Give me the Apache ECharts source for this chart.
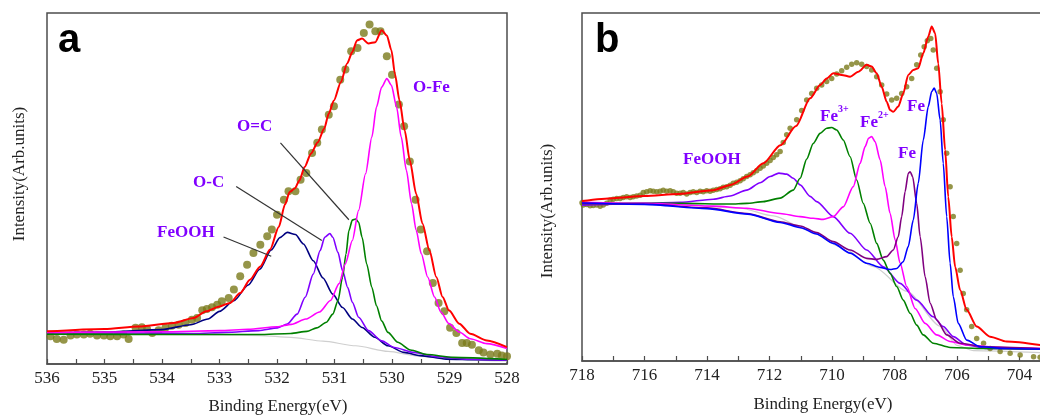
<!DOCTYPE html>
<html>
<head>
<meta charset="utf-8">
<title>XPS O 1s / Fe 2p</title>
<script src="https://cdn.jsdelivr.net/npm/echarts@6.0.0/dist/echarts.min.js"></script>
<style>
  html, body { margin: 0; padding: 0; background: #fff; }
  #chart { width: 1040px; height: 417px; }
</style>
</head>
<body>
<div id="chart"></div>
<script>
// panel a : O 1s  ([binding energy eV, intensity 0-100 of plot height])
const aDots = [[535.94,7.9],[535.83,7.1],[535.71,6.9],[535.59,8.1],[535.48,8.4],[535.36,8.4],[535.25,8.6],[535.13,8.1],[535.01,8.1],[534.9,7.9],[534.78,7.9],[534.67,8.4],[534.58,7.1],[534.46,10.3],[534.35,10.5],[534.26,10.0],[534.17,8.8],[534.06,9.6],[533.94,10.3],[533.83,10.9],[533.71,11.2],[533.59,11.7],[533.48,12.6],[533.39,13.1],[533.3,15.3],[533.22,15.7],[533.13,16.2],[533.04,16.9],[532.96,17.9],[532.84,18.8],[532.75,21.2],[532.64,25.0],[532.52,28.3],[532.41,31.6],[532.29,34.0],[532.17,36.4],[532.09,38.3],[532.0,42.5],[531.88,46.8],[531.8,49.2],[531.68,49.2],[531.59,52.5],[531.49,54.4],[531.39,60.1],[531.3,63.0],[531.22,66.8],[531.1,71.0],[531.01,73.4],[530.9,81.0],[530.81,83.9],[530.71,89.1],[530.6,90.0],[530.49,94.3],[530.39,96.7],[530.29,94.8],[530.2,94.8],[530.09,87.7],[530.0,82.4],[529.88,73.9],[529.79,67.7],[529.69,57.7],[529.59,46.8],[529.5,38.3],[529.39,32.1],[529.29,23.1],[529.19,17.4],[529.09,15.0],[528.99,10.3],[528.88,8.8],[528.78,6.0],[528.7,6.0],[528.61,5.5],[528.49,3.9],[528.41,3.3],[528.29,2.7],[528.17,2.9],[528.09,2.4],[528.0,2.2]];
const aFit = [[536.0,9.3],[535.0,10.0],[534.4,10.7],[533.8,11.7],[533.45,13.1],[533.23,15.0],[533.0,16.4],[532.82,17.4],[532.64,20.2],[532.47,24.0],[532.29,27.8],[532.12,32.6],[531.97,39.0],[531.86,45.5],[531.78,49.0],[531.69,50.0],[531.61,52.3],[531.52,56.1],[531.41,59.9],[531.29,63.2],[531.18,67.0],[531.1,71.3],[531.01,75.1],[530.89,80.3],[530.78,85.6],[530.69,88.9],[530.61,92.2],[530.52,92.7],[530.41,91.3],[530.29,91.7],[530.18,95.1],[530.09,93.6],[530.01,89.4],[529.95,82.7],[529.87,75.1],[529.78,66.6],[529.69,58.0],[529.58,48.5],[529.47,40.0],[529.35,32.4],[529.23,24.8],[529.12,19.1],[529.01,15.3],[528.83,11.5],[528.64,8.6],[528.35,6.7],[528.0,4.8]];
const aFeOOH = [[536.0,8.8],[535.0,9.1],[534.0,9.8],[533.5,11.2],[533.2,12.8],[533.0,15.0],[532.75,18.0],[532.5,22.5],[532.3,27.0],[532.1,32.5],[531.95,36.0],[531.82,37.5],[531.68,36.9],[531.54,34.2],[531.37,29.4],[531.2,24.5],[531.03,19.9],[530.86,16.1],[530.69,12.8],[530.52,10.4],[530.3,7.6],[530.07,5.2],[529.79,3.3],[529.51,2.4],[529.06,1.4],[528.5,1.2],[528.0,1.1]];
const aOC = [[536.0,8.9],[534.0,8.8],[533.45,8.7],[532.89,9.0],[532.32,9.5],[531.99,10.3],[531.82,11.4],[531.65,14.2],[531.51,19.0],[531.37,25.6],[531.25,32.3],[531.17,36.1],[531.08,37.2],[531.03,36.1],[530.94,31.8],[530.86,26.6],[530.77,21.8],[530.69,17.6],[530.58,13.3],[530.41,9.5],[530.18,6.6],[529.96,4.7],[529.62,3.3],[529.23,2.1],[528.66,1.4],[528.0,1.1]];
const aOdC = [[536.0,8.5],[533.45,8.4],[532.32,8.4],[531.76,8.7],[531.48,9.3],[531.31,10.3],[531.14,11.9],[531.03,14.2],[530.94,18.0],[530.86,24.7],[530.8,31.3],[530.75,38.0],[530.69,41.0],[530.63,41.3],[530.58,40.4],[530.52,36.1],[530.44,28.5],[530.35,21.8],[530.27,16.6],[530.18,12.3],[530.07,9.0],[529.9,6.2],[529.68,4.0],[529.39,2.7],[528.94,1.9],[528.0,1.3]];
const aOFe = [[536.0,9.0],[534.0,9.2],[533.0,9.5],[532.5,9.9],[532.0,10.6],[531.75,11.3],[531.5,12.8],[531.26,14.8],[531.07,18.1],[530.92,22.9],[530.81,28.6],[530.69,35.2],[530.58,43.8],[530.46,54.2],[530.35,64.7],[530.27,73.2],[530.18,78.9],[530.09,81.3],[530.01,79.4],[529.92,73.2],[529.84,64.7],[529.75,55.2],[529.66,45.7],[529.58,38.1],[529.49,31.4],[529.38,24.8],[529.26,19.1],[529.15,14.8],[529.01,11.5],[528.83,9.1],[528.64,7.2],[528.35,5.8],[528.0,4.4]];
const aBg = [[536.0,8.4],[534.0,8.4],[533.0,8.3],[532.3,8.1],[531.76,7.6],[531.2,6.5],[530.63,5.2],[530.07,3.6],[529.51,2.2],[528.94,1.4],[528.21,0.9],[528.0,0.9]];
// arrows: [from, to]
const aArrows = [
  [[531.94, 63.0], [530.75, 41.1]],
  [[532.71, 50.6], [531.22, 35.2]],
  [[532.93, 36.2], [532.10, 30.7]]
];

// panel b : Fe 2p
const bDots = [[718.0,45.5],[717.96,44.8],[717.85,45.0],[717.74,44.6],[717.64,44.7],[717.53,44.8],[717.42,44.5],[717.32,44.8],[717.21,45.3],[717.1,46.3],[717.0,46.5],[716.89,46.7],[716.78,46.7],[716.68,47.0],[716.57,47.2],[716.46,47.0],[716.36,47.2],[716.25,47.4],[716.14,47.6],[716.04,48.4],[715.93,48.6],[715.82,48.9],[715.72,48.8],[715.61,48.6],[715.5,48.8],[715.4,49.1],[715.29,48.8],[715.18,48.9],[715.08,48.6],[714.97,48.2],[714.86,48.2],[714.76,48.4],[714.65,48.0],[714.54,48.4],[714.44,48.6],[714.33,48.4],[714.22,48.8],[714.12,48.6],[714.01,48.9],[713.9,48.8],[713.8,49.1],[713.69,49.3],[713.58,49.5],[713.48,49.9],[713.37,50.1],[713.26,50.5],[713.16,51.1],[713.05,51.4],[712.94,51.8],[712.84,52.4],[712.73,53.0],[712.62,53.5],[712.52,54.1],[712.41,54.7],[712.3,55.4],[712.2,56.0],[712.09,56.8],[711.98,57.6],[711.88,58.5],[711.77,59.3],[711.66,60.2],[711.56,62.8],[711.45,65.0],[711.34,66.9],[711.13,69.3],[710.97,72.0],[710.81,75.0],[710.65,76.9],[710.49,78.4],[710.33,79.3],[710.17,80.3],[710.01,81.2],[709.85,82.5],[709.69,83.4],[709.53,84.4],[709.37,85.3],[709.21,85.7],[709.05,85.3],[708.89,84.6],[708.73,83.6],[708.57,81.7],[708.41,79.3],[708.25,76.7],[708.09,75.0],[707.93,75.5],[707.77,76.9],[707.61,78.8],[707.45,81.2],[707.29,85.1],[707.16,87.9],[707.05,90.3],[706.95,92.0],[706.84,92.7],[706.76,89.4],[706.65,84.1],[706.54,77.4],[706.44,69.3],[706.33,59.7],[706.22,50.1],[706.12,41.5],[706.01,33.8],[705.9,26.1],[705.8,19.4],[705.69,14.7],[705.53,9.9],[705.37,6.5],[705.15,5.1],[704.94,3.6],[704.62,2.7],[704.3,2.2],[703.98,1.7],[703.55,1.2],[703.34,1.1]];
const bFit = [[718.0,46.0],[717.0,46.8],[716.0,47.4],[714.9,48.0],[713.8,49.1],[713.25,50.6],[712.7,53.0],[712.2,56.8],[711.65,62.0],[711.15,67.5],[710.7,75.5],[710.38,79.3],[710.17,81.2],[709.96,82.7],[709.69,82.2],[709.42,81.7],[709.16,83.1],[708.89,85.1],[708.73,84.6],[708.57,82.7],[708.41,78.8],[708.25,74.5],[708.14,72.1],[708.04,71.6],[707.88,73.1],[707.72,76.9],[707.56,82.2],[707.4,83.6],[707.24,84.1],[707.08,88.4],[706.92,93.2],[706.81,96.1],[706.7,94.2],[706.6,85.5],[706.49,74.0],[706.38,60.6],[706.28,47.2],[706.17,35.7],[706.06,27.1],[705.9,20.4],[705.69,14.7],[705.37,9.9],[704.94,7.0],[704.41,5.6],[703.34,4.6]];
const bFeOOH = [[718.0,44.8],[716.0,45.3],[714.86,45.6],[713.8,46.5],[713.26,47.4],[712.73,49.1],[712.3,51.2],[711.98,53.0],[711.7,54.0],[711.45,53.7],[711.24,52.5],[711.02,50.6],[710.7,47.3],[710.49,45.8],[709.96,41.5],[709.42,36.7],[708.89,31.9],[708.36,27.1],[707.82,22.3],[707.29,17.5],[706.76,12.7],[706.44,9.9],[706.12,7.0],[705.69,4.6],[705.05,3.6],[703.34,3.4]];
const bFe3 = [[718.0,45.3],[714.86,45.3],[713.26,45.1],[712.73,45.3],[712.2,45.8],[711.66,46.8],[711.24,49.1],[711.02,52.5],[710.81,58.0],[710.6,62.5],[710.38,65.4],[710.17,66.9],[710.01,67.1],[709.85,66.4],[709.64,63.5],[709.42,58.7],[709.21,52.0],[709.0,45.3],[708.78,39.6],[708.57,33.8],[708.36,29.0],[708.14,25.2],[707.93,21.4],[707.72,17.5],[707.5,13.7],[707.29,10.3],[707.08,7.5],[706.76,5.1],[706.22,3.9],[705.15,3.6],[703.34,3.4]];
const bFe2 = [[718.0,45.6],[716.0,45.3],[713.8,44.5],[712.73,43.9],[711.66,42.4],[711.02,41.5],[710.6,41.0],[710.28,40.7],[709.96,41.5],[709.64,44.3],[709.32,50.1],[709.1,56.8],[708.94,61.6],[708.83,64.0],[708.73,64.5],[708.62,63.0],[708.46,57.8],[708.3,50.1],[708.14,42.4],[707.98,34.8],[707.82,28.1],[707.61,21.4],[707.34,15.1],[707.02,10.8],[706.65,7.5],[706.22,5.6],[705.69,4.6],[704.62,3.9],[703.34,3.6]];
const bFeMet2 = [[718.0,45.3],[716.0,45.1],[714.0,44.0],[712.73,42.4],[711.66,40.0],[711.02,38.8],[710.49,36.9],[709.96,34.3],[709.42,31.9],[708.89,29.5],[708.57,29.2],[708.25,30.0],[708.04,31.9],[707.88,35.7],[707.77,41.5],[707.66,48.7],[707.56,53.9],[707.5,54.4],[707.42,53.0],[707.29,45.3],[707.18,35.7],[707.02,24.2],[706.86,16.6],[706.65,11.8],[706.33,7.5],[705.9,5.1],[705.15,4.1],[703.34,3.6]];
const bFeMet = [[718.0,45.4],[716.0,45.0],[714.0,43.8],[712.7,42.2],[711.66,39.8],[711.0,38.3],[710.5,36.5],[709.96,33.8],[709.42,31.0],[708.89,28.1],[708.46,26.9],[708.14,26.3],[707.93,26.6],[707.72,28.5],[707.56,32.9],[707.4,40.5],[707.24,51.1],[707.08,63.5],[706.92,73.1],[706.81,77.4],[706.73,78.4],[706.65,76.9],[706.54,69.3],[706.44,56.8],[706.33,41.5],[706.22,28.1],[706.12,18.5],[705.96,10.8],[705.69,6.0],[705.26,4.1],[704.41,3.6],[703.34,3.4]];
const bBg = [[718.0,45.5],[715.07,45.1],[712.93,43.9],[711.87,41.7],[710.8,37.7],[709.73,32.9],[708.67,27.1],[707.6,20.0],[706.53,10.0],[706.0,4.5],[705.47,3.0],[703.34,2.4]];

const SERIF = '"Liberation Serif", "Times New Roman", serif';
const SANS = '"Liberation Sans", Arial, sans-serif';
const PURPLE = '#8000ff';

function xAxis(idx, min, max, interval) {
  return {
    gridIndex: idx, type: 'value', inverse: true, min: min, max: max, interval: interval,
    axisLine: { show: true, lineStyle: { color: '#4d4d4d', width: 1.5 } },
    axisTick: { show: true, inside: true, length: 5, lineStyle: { color: '#4d4d4d', width: 1.2 } },
    minorTick: { show: true, splitNumber: 2, length: 5, lineStyle: { color: '#4d4d4d', width: 1.2 } },
    axisLabel: { margin: 6, color: '#222', fontFamily: SERIF, fontSize: 17 },
    splitLine: { show: false }
  };
}
function yAxis(idx) {
  return { gridIndex: idx, type: 'value', min: 0, max: 100, show: false };
}
function line(idx, data, color, width, z) {
  return {
    type: 'line', xAxisIndex: idx, yAxisIndex: idx, data: data,
    symbol: 'none', smooth: 0.25, smoothMonotone: 'x',
    lineStyle: { color: color, width: width }, z: z || 3, silent: true
  };
}
function dots(idx, data, size) {
  return {
    type: 'scatter', xAxisIndex: idx, yAxisIndex: idx, data: data,
    symbolSize: size, itemStyle: { color: '#7a7a1c' }, z: 2, silent: true
  };
}
// text helper: size, weight, family given separately
function txt(x, y, text, size, weight, family, color, align, rot) {
  return {
    type: 'text', x: x, y: y, rotation: rot || 0, silent: true,
    style: {
      text: text, fontSize: size, fontWeight: weight, fontFamily: family,
      fill: color, align: align, verticalAlign: 'middle'
    }
  };
}
function lab(x, y, text) { return txt(x, y, text, 17, 'bold', SERIF, PURPLE, 'left'); }
function sup(x, y, text) { return txt(x, y, text, 10, 'bold', SERIF, PURPLE, 'left'); }

const bgA = line(0, aBg, '#cfcfcf', 1.2, 1);
bgA.markLine = {
  silent: true, symbol: ['none', 'arrow'], symbolSize: [0, 9],
  label: { show: false },
  lineStyle: { color: '#333', width: 1.2, type: 'solid' },
  data: aArrows.map(a => [{ coord: a[0] }, { coord: a[1] }])
};

const chart = echarts.init(document.getElementById('chart'));

chart.setOption({
  animation: false,
  backgroundColor: '#fff',
  grid: [
    { left: 47, top: 13, width: 460, height: 351, show: true, borderColor: '#4d4d4d', borderWidth: 1.5, outerBoundsMode: 'none', containLabel: false },
    { left: 582, top: 13, width: 500, height: 348, show: true, borderColor: '#4d4d4d', borderWidth: 1.5, outerBoundsMode: 'none', containLabel: false }
  ],
  xAxis: [xAxis(0, 528, 536, 1), xAxis(1, 702, 718, 2)],
  yAxis: [yAxis(0), yAxis(1)],
  series: [
    bgA,
    dots(0, aDots, 8),
    line(0, aFeOOH, '#000080', 1.6),
    line(0, aOC, PURPLE, 1.6),
    line(0, aOdC, '#008000', 1.6),
    line(0, aOFe, '#ff00ff', 1.6),
    line(0, aFit, '#ff0000', 2, 4),
    line(1, bBg, '#cfcfcf', 1.2, 1),
    dots(1, bDots, 5.5),
    line(1, bFeOOH, PURPLE, 1.6),
    line(1, bFe3, '#008000', 1.6),
    line(1, bFe2, '#ff00ff', 1.6),
    line(1, bFeMet2, '#800080', 1.6),
    line(1, bFeMet, '#0000ff', 1.6),
    line(1, bFit, '#ff0000', 2, 4)
  ],
  graphic: [
    txt(58, 41, 'a', 40, 'bold', SANS, '#000', 'left'),
    lab(413, 88, 'O-Fe'),
    lab(237, 127, 'O=C'),
    lab(193, 183, 'O-C'),
    lab(157, 233, 'FeOOH'),
    txt(278, 407, 'Binding Energy(eV)', 17, 'normal', SERIF, '#222', 'center'),
    txt(20, 174, 'Intensity(Arb.units)', 17, 'normal', SERIF, '#222', 'center', Math.PI / 2),

    txt(595, 41, 'b', 40, 'bold', SANS, '#000', 'left'),
    lab(683, 160, 'FeOOH'),
    lab(820, 117, 'Fe'), sup(838, 109, '3+'),
    lab(860, 123, 'Fe'), sup(878, 115, '2+'),
    lab(898, 154, 'Fe'),
    lab(907, 107, 'Fe'),
    txt(823, 405, 'Binding Energy(eV)', 17, 'normal', SERIF, '#222', 'center'),
    txt(548, 211, 'Intensity(Arb.units)', 17, 'normal', SERIF, '#222', 'center', Math.PI / 2)
  ]
});
</script>
</body>
</html>
